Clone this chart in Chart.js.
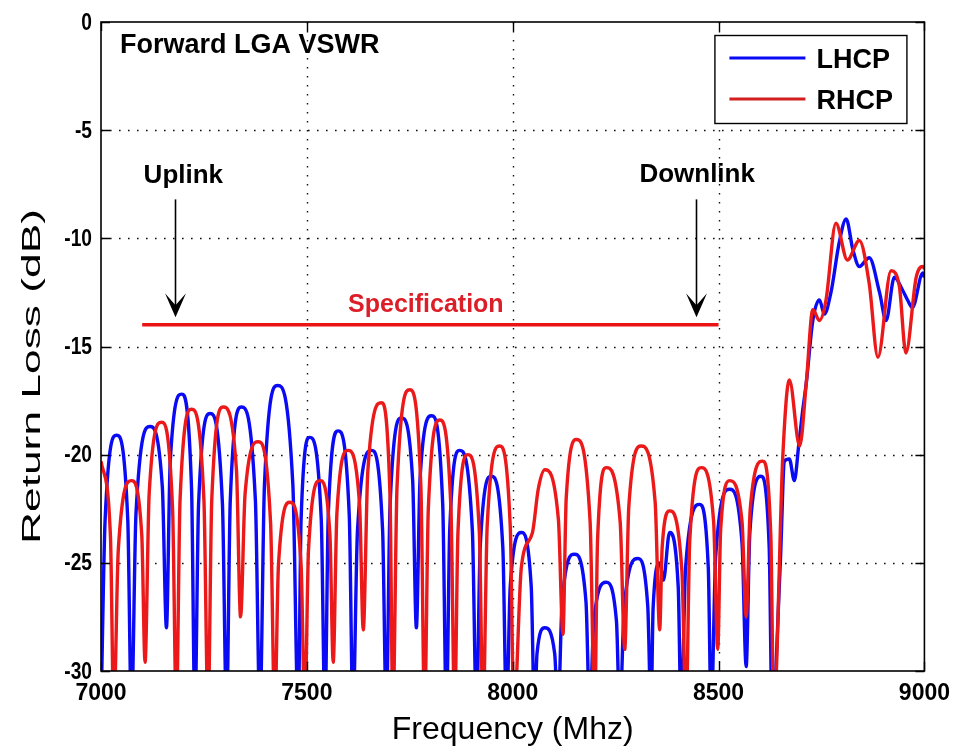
<!DOCTYPE html>
<html><head><meta charset="utf-8">
<script src="https://cdn.jsdelivr.net/npm/chart.js@4.4.0/dist/chart.umd.min.js"></script>
<style>html,body{margin:0;padding:0;background:#fff;}canvas{display:block;}</style>
</head><body>
<canvas id="c" width="959" height="750"></canvas>
<script>
// ---- data (peaks, shoulders and nulls) ----
const lhcpFreq = [7000,7010,7038,7065,7074,7085,7119,7149,7159,7168,7196,7220,7228,7237,7265,7295,7305,7314,7341,7375,7386,7397,7429,7466,7479,7486,7507,7535,7544,7552,7576,7603,7612,7623,7657,7684,7693,7702,7730,7757,7766,7775,7803,7830,7839,7847,7871,7902,7912,7921,7948,7976,7985,7994,8021,8045,8053,8059,8078,8102,8110,8120,8150,8178,8187,8197,8227,8252,8260,8271,8304,8328,8336,8341,8357,8366,8381,8402,8409,8420,8454,8475,8482,8493,8527,8557,8567,8576,8603,8623,8630,8650,8660,8672,8684,8695,8704,8713,8729,8745,8757,8773,8793,8810,8826,8842,8866,8891,8907,8927,8947,8959,8971,8996,9000];
const lhcpDb = [-32,-23.0,-19.1,-23.0,-32,-22.7,-18.7,-21.5,-28.0,-20.4,-17.2,-21.6,-32,-22.3,-18.1,-22.3,-32,-22.1,-17.8,-22.1,-32,-21.4,-16.8,-21.4,-32,-23.0,-19.2,-23.0,-32,-22.8,-18.9,-22.8,-32,-23.5,-19.8,-23.5,-32,-22.4,-18.3,-21.2,-28.0,-21.1,-18.2,-22.3,-32,-23.5,-19.8,-23.5,-32,-24.3,-21.0,-24.3,-32,-26.1,-23.6,-26.1,-32,-29.2,-28.0,-29.2,-32,-26.8,-24.6,-26.8,-32,-27.7,-25.9,-27.7,-32,-27.0,-24.8,-27.0,-32,-27.1,-25.0,-25.8,-23.6,-26.1,-32,-25.2,-22.3,-25.2,-32,-24.7,-21.6,-24.1,-29.8,-23.6,-21.0,-24.3,-32,-25.0,-20.3,-20.2,-21.2,-19.5,-18.0,-16.7,-13.8,-12.85,-13.5,-12.5,-10.2,-9.1,-10.5,-11.3,-10.9,-12.5,-13.8,-11.8,-12.4,-12.85,-13.2,-11.6,-11.8];
const rhcpFreq = [7000,7023,7031,7042,7074,7099,7107,7117,7147,7174,7183,7192,7220,7250,7260,7269,7297,7329,7339,7350,7382,7412,7422,7431,7459,7486,7495,7504,7532,7556,7564,7573,7600,7628,7637,7648,7681,7702,7709,7719,7750,7777,7786,7795,7823,7850,7859,7867,7891,7919,7928,7938,7968,7994,8003,8021,8048,8062,8078,8111,8122,8130,8155,8188,8199,8206,8227,8261,8272,8282,8312,8346,8357,8363,8381,8411,8421,8430,8458,8488,8498,8505,8527,8557,8567,8577,8607,8627,8634,8656,8672,8697,8713,8729,8745,8761,8785,8813,8842,8866,8887,8919,8939,8955,8980,8996,9000];
const rhcpDb = [-20.3,-23.8,-32,-24.4,-21.2,-23.7,-29.6,-21.8,-18.5,-22.6,-32,-22.1,-17.9,-22.1,-32,-22.1,-17.8,-20.7,-27.5,-21.8,-19.4,-23.2,-32,-25.1,-22.2,-25.1,-32,-24.4,-21.2,-23.7,-29.6,-22.7,-19.8,-22.3,-28.1,-20.8,-17.6,-21.9,-32,-21.5,-17.0,-21.5,-32,-22.5,-18.4,-22.5,-32,-23.6,-20.0,-23.6,-32,-23.3,-19.6,-23.3,-32,-25.2,-23.6,-21.6,-20.7,-23.0,-28.3,-22.0,-19.3,-23.1,-32,-24.0,-20.6,-23.1,-29.0,-22.4,-19.6,-22.2,-28.1,-24.3,-22.6,-25.4,-32,-24.0,-20.6,-23.1,-29.0,-23.5,-21.2,-23.1,-27.5,-22.5,-20.3,-23.8,-32,-20.1,-16.55,-19.6,-16.7,-13.3,-13.8,-12.85,-9.3,-11.0,-10.1,-12.1,-15.5,-11.5,-12.2,-15.3,-11.8,-11.3,-11.4];
const specFreq = [7100, 8500];
const specDb = [-14, -14];
const seriesNames = ['LHCP', 'RHCP'];
const xTicks = [7000, 7500, 8000, 8500, 9000];
const yTicks = [0, -5, -10, -15, -20, -25, -30];
// annotations: arrows (freq, top dB, tip dB) and text labels (freq, dB)
const arrowFreq = [7180, 8445];
const arrowTopDb = -8.2;
const arrowTipDb = -13.65;
const noteText = ['Uplink', 'Downlink', 'Specification', 'Forward LGA VSWR'];
const noteFreq = [7200, 8448, 7789, 7046];
const noteDb = [-7.42, -7.38, -13.4, -1.43];

const FONT = "'Liberation Sans', Arial, Helvetica, sans-serif";
const BLUE = 'rgb(10,10,245)';
const RED = 'rgb(235,25,25)';

const toXY = (xs, ys) => xs.map((v, i) => ({x: v, y: ys[i]}));

const deco = {
  id: 'deco',
  beforeDatasetsDraw(chart) {
    const {ctx, chartArea: a, scales: {x, y}} = chart;
    ctx.save();
    ctx.strokeStyle = '#111';
    ctx.lineWidth = 1.4;
    ctx.setLineDash([1.6, 7.4]);
    xTicks.forEach(v => {
      if (v <= x.min || v >= x.max) return;
      const px = Math.round(x.getPixelForValue(v)) + 0.5;
      ctx.beginPath(); ctx.moveTo(px, a.top); ctx.lineTo(px, a.bottom); ctx.stroke();
    });
    yTicks.forEach(v => {
      if (v <= y.min || v >= y.max) return;
      const py = Math.round(y.getPixelForValue(v)) + 0.5;
      ctx.beginPath(); ctx.moveTo(a.left, py); ctx.lineTo(a.right, py); ctx.stroke();
    });
    ctx.restore();
  },
  afterDatasetsDraw(chart) {
    const {ctx, chartArea: a, scales: {x, y}} = chart;
    ctx.save();
    // frame
    ctx.strokeStyle = '#000';
    ctx.lineWidth = 1.6;
    ctx.strokeRect(a.left, a.top, a.right - a.left, a.bottom - a.top);
    // inward ticks
    const tl = 9;
    ctx.lineWidth = 1.4;
    xTicks.forEach(v => {
      const px = Math.round(x.getPixelForValue(v)) + 0.5;
      ctx.beginPath();
      ctx.moveTo(px, a.bottom); ctx.lineTo(px, a.bottom - tl);
      ctx.moveTo(px, a.top); ctx.lineTo(px, a.top + tl);
      ctx.stroke();
    });
    yTicks.forEach(v => {
      const py = Math.round(y.getPixelForValue(v)) + 0.5;
      ctx.beginPath();
      ctx.moveTo(a.left, py); ctx.lineTo(a.left + tl, py);
      ctx.moveTo(a.right, py); ctx.lineTo(a.right - tl, py);
      ctx.stroke();
    });
    // y tick labels (slightly condensed, as in the reference)
    ctx.fillStyle = '#000';
    ctx.font = 'bold 24px ' + FONT;
    ctx.textAlign = 'right';
    ctx.textBaseline = 'middle';
    yTicks.forEach(v => {
      const py = y.getPixelForValue(v);
      ctx.save();
      ctx.translate(a.left - 9, py + 1);
      ctx.scale(0.8, 1);
      ctx.fillText(String(v), 0, 0);
      ctx.restore();
    });
    // arrows
    ctx.fillStyle = '#000';
    ctx.strokeStyle = '#000';
    arrowFreq.forEach(f => {
      const px = Math.round(x.getPixelForValue(f)) + 0.5;
      const pt = y.getPixelForValue(arrowTopDb);
      const pb = y.getPixelForValue(arrowTipDb);
      ctx.lineWidth = 1.6;
      ctx.beginPath(); ctx.moveTo(px, pt); ctx.lineTo(px, pb - 10); ctx.stroke();
      ctx.beginPath();
      ctx.moveTo(px, pb);
      ctx.lineTo(px - 10.5, pb - 24);
      ctx.lineTo(px, pb - 12);
      ctx.lineTo(px + 10.5, pb - 24);
      ctx.closePath();
      ctx.fill();
    });
    // text notes
    ctx.textBaseline = 'alphabetic';
    noteText.forEach((t, i) => {
      const px = x.getPixelForValue(noteFreq[i]);
      const py = y.getPixelForValue(noteDb[i]);
      if (i === 3) {
        ctx.font = 'bold 27px ' + FONT; ctx.textAlign = 'left'; ctx.fillStyle = '#000';
      } else if (i === 2) {
        ctx.font = 'bold 25px ' + FONT; ctx.textAlign = 'center'; ctx.fillStyle = 'rgb(220,30,40)';
      } else {
        ctx.font = 'bold 26px ' + FONT; ctx.textAlign = 'center'; ctx.fillStyle = '#000';
      }
      ctx.fillText(t, px, py);
    });
    // legend box
    const lx = a.right - 210, ly = a.top + 13, lw = 192, lh = 88;
    ctx.fillStyle = '#fff';
    ctx.fillRect(lx, ly, lw, lh);
    ctx.strokeStyle = '#000'; ctx.lineWidth = 1.4;
    ctx.strokeRect(lx + 0.5, ly + 0.5, lw, lh);
    const cols = [BLUE, 'rgb(210,30,30)'];
    seriesNames.forEach((n, i) => {
      const yy = ly + 23 + i * 41;
      ctx.strokeStyle = cols[i]; ctx.lineWidth = 3;
      ctx.beginPath(); ctx.moveTo(lx + 15, yy); ctx.lineTo(lx + 91, yy); ctx.stroke();
      ctx.fillStyle = '#000';
      ctx.font = 'bold 27px ' + FONT; ctx.textAlign = 'left';
      ctx.fillText(n, lx + 102, yy + 10);
    });
    ctx.restore();
  },
  afterDraw(chart) {
    const {ctx, chartArea: a} = chart;
    ctx.save();
    ctx.fillStyle = '#000';
    ctx.font = '26px ' + FONT;
    const t = 'Return Loss (dB)';
    const w = ctx.measureText(t).width;
    ctx.translate(40, (a.top + a.bottom) / 2 + 30);
    ctx.rotate(-Math.PI / 2);
    ctx.scale(335 / w, 1);
    ctx.textAlign = 'center';
    ctx.textBaseline = 'alphabetic';
    ctx.fillText(t, 0, 0);
    ctx.restore();
  }
};

new Chart(document.getElementById('c'), {
  type: 'line',
  data: {
    datasets: [
      {label: seriesNames[0], data: toXY(lhcpFreq, lhcpDb), borderColor: BLUE, borderWidth: 3.4, pointRadius: 0, cubicInterpolationMode: 'monotone', fill: false, order: 2, clip: 0},
      {label: seriesNames[1], data: toXY(rhcpFreq, rhcpDb), borderColor: RED, borderWidth: 3.4, pointRadius: 0, cubicInterpolationMode: 'monotone', fill: false, order: 1, clip: 0},
      {label: 'Specification', data: toXY(specFreq, specDb), borderColor: 'rgb(235,20,20)', borderWidth: 3.5, pointRadius: 0, fill: false, order: 0}
    ]
  },
  options: {
    responsive: false,
    animation: false,
    devicePixelRatio: 1,
    layout: {padding: {top: 22, right: 34, left: 0, bottom: 0}},
    plugins: {legend: {display: false}, tooltip: {enabled: false}},
    scales: {
      x: {
        type: 'linear', min: 7000, max: 9000,
        afterBuildTicks: s => { s.ticks = xTicks.map(v => ({value: v})); },
        afterFit: s => { s.height = 79; },
        grid: {display: false, drawTicks: false},
        border: {display: false},
        ticks: {color: '#000', font: {family: FONT, size: 23, weight: 'bold'}, padding: 9, maxRotation: 0, autoSkip: false, callback: v => String(v)},
        title: {display: true, text: 'Frequency (Mhz)', color: '#000', font: {family: FONT, size: 32}, padding: {top: 0, bottom: 1}}
      },
      y: {
        type: 'linear', min: -30, max: 0,
        afterBuildTicks: s => { s.ticks = yTicks.map(v => ({value: v})); },
        afterFit: s => { s.width = 101; },
        grid: {display: false, drawTicks: false},
        border: {display: false},
        ticks: {display: false}
      }
    }
  },
  plugins: [deco]
});
</script>
</body></html>
